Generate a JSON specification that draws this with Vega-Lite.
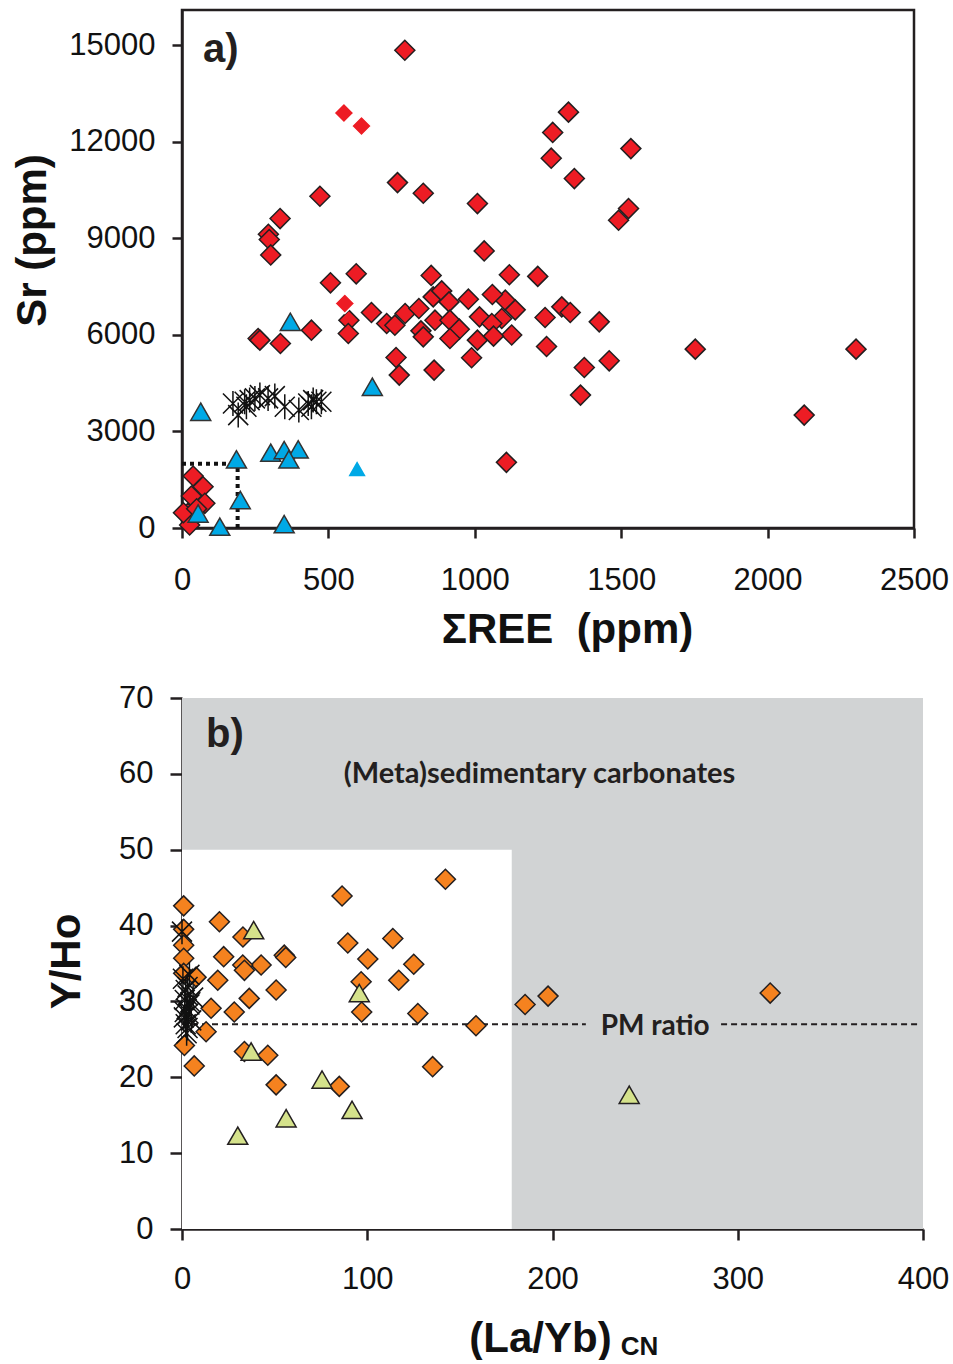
{
  "$schema": "https://vega.github.io/schema/vega-lite/v6.json",
  "padding": {"left": 9, "top": 8, "right": 5, "bottom": 0},
  "spacing": 30,
  "resolve": {"scale": {"shape": "independent", "fill": "independent", "stroke": "independent"}},
  "config": {
    "font": "Liberation Sans",
    "view": {"stroke": "#231f20", "strokeWidth": 2.5},
    "axis": {"grid": false, "domainColor": "#231f20", "domainWidth": 2.5, "tickColor": "#231f20", "tickWidth": 2.5, "tickSize": 10,
      "labelFont": "Liberation Sans", "labelFontSize": 31, "labelColor": "#111111", "format": "d",
      "titleFont": "Liberation Sans", "titleFontSize": 42, "titleFontWeight": "bold", "titleColor": "#111111",
      "labelFlush": false, "labelOverlap": false, "zindex": 1}
  },
  "vconcat": [
    {
      "width": 732, "height": 518,
      "encoding": {
        "x": {"field": "x", "type": "quantitative", "scale": {"domain": [0, 2500], "nice": false, "zero": false},
          "axis": {"values": [0, 500, 1000, 1500, 2000, 2500], "format": "d", "title": "ΣREE\u00a0 (ppm)", "labelPadding": 27, "titleX": 385, "titleY": 114, "titleBaseline": "alphabetic"}},
        "y": {"field": "y", "type": "quantitative", "scale": {"domain": [0, 16100], "nice": false},
          "axis": {"values": [0, 3000, 6000, 9000, 12000, 15000], "format": "d", "title": "Sr (ppm)", "labelPadding": 17, "titleX": -137, "titleY": 230, "titleBaseline": "alphabetic", "titleAngle": 270}}
      },
      "layer": [
        {"data": {"values": [{"x": 0, "y": 2000, "x2": 190, "y2": 2000}, {"x": 190, "y": 0, "x2": 190, "y2": 2000}]},
         "mark": {"type": "rule", "stroke": "#111111", "strokeWidth": 4, "strokeDash": [4, 4]},
         "encoding": {"x2": {"field": "x2"}, "y2": {"field": "y2"}}},
        {"data": {"values": [
          {"s": "red", "x": 761, "y": 14850}, {"s": "red", "x": 1320, "y": 12925}, {"s": "red", "x": 1266, "y": 12295}, {"s": "red", "x": 1261, "y": 11495},
          {"s": "red", "x": 1340, "y": 10860}, {"s": "red", "x": 1533, "y": 11792}, {"s": "red", "x": 1525, "y": 9928}, {"s": "red", "x": 1491, "y": 9565},
          {"s": "red", "x": 736, "y": 10735}, {"s": "red", "x": 824, "y": 10404}, {"s": "red", "x": 1009, "y": 10083}, {"s": "red", "x": 471, "y": 10311},
          {"s": "red", "x": 335, "y": 9617}, {"s": "red", "x": 295, "y": 9130}, {"s": "red", "x": 298, "y": 8965}, {"s": "red", "x": 303, "y": 8488},
          {"s": "red", "x": 1032, "y": 8612}, {"s": "red", "x": 1118, "y": 7870}, {"s": "red", "x": 1215, "y": 7820}, {"s": "red", "x": 851, "y": 7850},
          {"s": "red", "x": 595, "y": 7900}, {"s": "red", "x": 507, "y": 7620}, {"s": "red", "x": 1104, "y": 7081}, {"s": "red", "x": 1138, "y": 6780},
          {"s": "red", "x": 1092, "y": 6513}, {"s": "red", "x": 1297, "y": 6873}, {"s": "red", "x": 1326, "y": 6698}, {"s": "red", "x": 1240, "y": 6543},
          {"s": "red", "x": 1425, "y": 6407}, {"s": "red", "x": 1126, "y": 6000}, {"s": "red", "x": 1245, "y": 5640}, {"s": "red", "x": 1753, "y": 5559},
          {"s": "red", "x": 2302, "y": 5559}, {"s": "red", "x": 1374, "y": 4990}, {"s": "red", "x": 1459, "y": 5196}, {"s": "red", "x": 1361, "y": 4130},
          {"s": "red", "x": 2125, "y": 3509}, {"s": "red", "x": 1108, "y": 2040}, {"s": "red", "x": 647, "y": 6699}, {"s": "red", "x": 699, "y": 6357},
          {"s": "red", "x": 727, "y": 6304}, {"s": "red", "x": 762, "y": 6667}, {"s": "red", "x": 809, "y": 6823}, {"s": "red", "x": 858, "y": 7183},
          {"s": "red", "x": 887, "y": 7370}, {"s": "red", "x": 912, "y": 7028}, {"s": "red", "x": 978, "y": 7112}, {"s": "red", "x": 1060, "y": 7258},
          {"s": "red", "x": 864, "y": 6460}, {"s": "red", "x": 816, "y": 6127}, {"s": "red", "x": 824, "y": 5941}, {"s": "red", "x": 915, "y": 6460},
          {"s": "red", "x": 947, "y": 6180}, {"s": "red", "x": 915, "y": 5891}, {"s": "red", "x": 1016, "y": 6562}, {"s": "red", "x": 1058, "y": 6357},
          {"s": "red", "x": 1009, "y": 5839}, {"s": "red", "x": 1064, "y": 5963}, {"s": "red", "x": 989, "y": 5290}, {"s": "red", "x": 731, "y": 5300},
          {"s": "red", "x": 742, "y": 4752}, {"s": "red", "x": 861, "y": 4907}, {"s": "red", "x": 260, "y": 5891}, {"s": "red", "x": 266, "y": 5839},
          {"s": "red", "x": 336, "y": 5735}, {"s": "red", "x": 442, "y": 6149}, {"s": "red", "x": 570, "y": 6460}, {"s": "red", "x": 568, "y": 6046},
          {"s": "red", "x": 38, "y": 1615}, {"s": "red", "x": 72, "y": 1284}, {"s": "red", "x": 32, "y": 994}, {"s": "red", "x": 78, "y": 767},
          {"s": "red", "x": 20, "y": 456}, {"s": "red", "x": 26, "y": 93}, {"s": "red", "x": 5, "y": 475}, {"s": "red", "x": 50, "y": 600},
          {"s": "redopen", "x": 553, "y": 12898}, {"s": "redopen", "x": 613, "y": 12494}, {"s": "redopen", "x": 556, "y": 6978},
          {"s": "star", "x": 174, "y": 3872}, {"s": "star", "x": 192, "y": 3509}, {"s": "star", "x": 214, "y": 3924}, {"s": "star", "x": 231, "y": 3975},
          {"s": "star", "x": 249, "y": 4028}, {"s": "star", "x": 266, "y": 4130}, {"s": "star", "x": 294, "y": 4028}, {"s": "star", "x": 317, "y": 4099},
          {"s": "star", "x": 351, "y": 3767}, {"s": "star", "x": 399, "y": 3665}, {"s": "star", "x": 431, "y": 3872}, {"s": "star", "x": 448, "y": 3975},
          {"s": "star", "x": 459, "y": 3924}, {"s": "star", "x": 476, "y": 3924}, {"s": "star", "x": 442, "y": 3767}, {"s": "star", "x": 220, "y": 3767},
          {"s": "blue", "x": 370, "y": 6408}, {"s": "blue", "x": 64, "y": 3613}, {"s": "blue", "x": 650, "y": 4390}, {"s": "blue", "x": 303, "y": 2340},
          {"s": "blue", "x": 349, "y": 2422}, {"s": "blue", "x": 397, "y": 2443}, {"s": "blue", "x": 365, "y": 2134}, {"s": "blue", "x": 186, "y": 2134},
          {"s": "blue", "x": 199, "y": 870}, {"s": "blue", "x": 55, "y": 450}, {"s": "blue", "x": 129, "y": 40}, {"s": "blue", "x": 349, "y": 120},
          {"s": "blueopen", "x": 598, "y": 1854}
        ]},
         "mark": {"type": "point", "filled": true, "size": 400, "strokeWidth": 1.5, "opacity": 1},
         "encoding": {
           "shape": {"field": "s", "type": "nominal", "legend": null, "scale": {"domain": ["red", "redopen", "star", "blue", "blueopen"], "range": ["diamond", "diamond", "M-1,-1L1,1M-1,1L1,-1M0,-1.25L0,1.25", "triangle-up", "triangle-up"]}},
           "fill": {"field": "s", "type": "nominal", "legend": null, "scale": {"domain": ["red", "redopen", "star", "blue", "blueopen"], "range": ["#ed1c24", "#ed1c24", "transparent", "#00a9e6", "#00a9e6"]}},
           "stroke": {"field": "s", "type": "nominal", "legend": null, "scale": {"domain": ["red", "redopen", "star", "blue", "blueopen"], "range": ["#231f20", "#ffffff", "#111111", "#333333", "#ffffff"]}}
         }},
        {"data": {"values": [{"x": 72, "y": 14472, "t": "a)"}]},
         "mark": {"type": "text", "font": "Liberation Sans", "fontSize": 40, "fontWeight": "bold", "align": "left", "baseline": "alphabetic", "color": "#231f20"},
         "encoding": {"text": {"field": "t"}}}
      ]
    },
    {
      "width": 741, "height": 531,
      "view": {"stroke": null},
      "encoding": {
        "x": {"field": "x", "type": "quantitative", "scale": {"domain": [0, 400], "nice": false, "zero": false},
          "axis": {"values": [0, 100, 200, 300, 400], "format": "d", "title": "(La/Yb)", "labelPadding": 24, "tickSize": 11, "titleX": 358, "titleY": 122, "titleBaseline": "alphabetic"}},
        "y": {"field": "y", "type": "quantitative", "scale": {"domain": [0, 70], "nice": false},
          "axis": {"values": [0, 10, 20, 30, 40, 50, 60, 70], "format": "d", "title": "Y/Ho", "labelPadding": 17, "tickSize": 12, "titleX": -103, "titleY": 263, "titleBaseline": "alphabetic", "titleAngle": 270}}
      },
      "layer": [
        {"data": {"values": [{"x": 0, "x2": 400, "y": 0, "y2": 70}]},
         "mark": {"type": "rect", "fill": "#d1d3d4"},
         "encoding": {"x2": {"field": "x2"}, "y2": {"field": "y2"}}},
        {"data": {"values": [{"x": 0, "x2": 178, "y": 0, "y2": 50}]},
         "mark": {"type": "rect", "fill": "#ffffff"},
         "encoding": {"x2": {"field": "x2"}, "y2": {"field": "y2"}}},
        {"data": {"values": [{"x": 0, "x2": 218, "y": 27, "y2": 27}, {"x": 291, "x2": 397, "y": 27, "y2": 27}]},
         "mark": {"type": "rule", "stroke": "#231f20", "strokeWidth": 2, "strokeDash": [6, 4]},
         "encoding": {"x2": {"field": "x2"}, "y2": {"field": "y2"}}},
        {"data": {"values": [
          {"s": "orange", "x": 142.2, "y": 46.1}, {"s": "orange", "x": 86.4, "y": 43.9}, {"s": "orange", "x": 0.9, "y": 42.6}, {"s": "orange", "x": 20.2, "y": 40.5},
          {"s": "orange", "x": 32.9, "y": 38.5}, {"s": "orange", "x": 0.9, "y": 39.5}, {"s": "orange", "x": 89.5, "y": 37.7}, {"s": "orange", "x": 113.8, "y": 38.3},
          {"s": "orange", "x": 0.9, "y": 37.4}, {"s": "orange", "x": 22.5, "y": 35.9}, {"s": "orange", "x": 55.2, "y": 36.1}, {"s": "orange", "x": 56.0, "y": 35.8},
          {"s": "orange", "x": 42.7, "y": 34.8}, {"s": "orange", "x": 100.3, "y": 35.6}, {"s": "orange", "x": 125.1, "y": 34.9}, {"s": "orange", "x": 0.9, "y": 35.7},
          {"s": "orange", "x": 32.8, "y": 34.8}, {"s": "orange", "x": 33.7, "y": 34.1}, {"s": "orange", "x": 0.9, "y": 33.7}, {"s": "orange", "x": 7.6, "y": 33.2},
          {"s": "orange", "x": 19.3, "y": 32.8}, {"s": "orange", "x": 50.8, "y": 31.5}, {"s": "orange", "x": 96.7, "y": 32.6}, {"s": "orange", "x": 117.0, "y": 32.8},
          {"s": "orange", "x": 36.3, "y": 30.4}, {"s": "orange", "x": 15.7, "y": 29.1}, {"s": "orange", "x": 28.2, "y": 28.6}, {"s": "orange", "x": 97.0, "y": 28.6},
          {"s": "orange", "x": 127.3, "y": 28.4}, {"s": "orange", "x": 158.7, "y": 26.8}, {"s": "orange", "x": 13.0, "y": 26.0}, {"s": "orange", "x": 1.3, "y": 24.2},
          {"s": "orange", "x": 6.6, "y": 21.5}, {"s": "orange", "x": 33.7, "y": 23.4}, {"s": "orange", "x": 46.3, "y": 22.9}, {"s": "orange", "x": 135.3, "y": 21.4},
          {"s": "orange", "x": 50.8, "y": 19.0}, {"s": "orange", "x": 84.9, "y": 18.8}, {"s": "orange", "x": 185.2, "y": 29.6}, {"s": "orange", "x": 197.6, "y": 30.7},
          {"s": "orange", "x": 317.5, "y": 31.1},
          {"s": "star", "x": 2, "y": 31.5}, {"s": "star", "x": 3, "y": 30.8}, {"s": "star", "x": 1.5, "y": 30.2}, {"s": "star", "x": 4, "y": 29.6},
          {"s": "star", "x": 2.5, "y": 29.0}, {"s": "star", "x": 3.5, "y": 28.4}, {"s": "star", "x": 1, "y": 27.9}, {"s": "star", "x": 5, "y": 27.5},
          {"s": "star", "x": 2, "y": 27.0}, {"s": "star", "x": 3, "y": 26.5}, {"s": "star", "x": 4.5, "y": 29.9}, {"s": "star", "x": 1.5, "y": 28.6},
          {"s": "star", "x": 3, "y": 31.9}, {"s": "star", "x": 2.5, "y": 25.8}, {"s": "star", "x": 0.5, "y": 33.0}, {"s": "star", "x": 4, "y": 33.5},
          {"s": "star", "x": 6, "y": 30.5}, {"s": "star", "x": 0, "y": 39.2},
          {"s": "green", "x": 38.7, "y": 39.4}, {"s": "green", "x": 95.7, "y": 31.1}, {"s": "green", "x": 37.3, "y": 23.4}, {"s": "green", "x": 75.6, "y": 19.7},
          {"s": "green", "x": 56.2, "y": 14.6}, {"s": "green", "x": 30.1, "y": 12.3}, {"s": "green", "x": 91.8, "y": 15.7}, {"s": "green", "x": 241.4, "y": 17.7}
        ]},
         "mark": {"type": "point", "filled": true, "size": 400, "strokeWidth": 1.5, "opacity": 1},
         "encoding": {
           "shape": {"field": "s", "type": "nominal", "legend": null, "scale": {"domain": ["orange", "star", "green"], "range": ["diamond", "M-1,-1L1,1M-1,1L1,-1M0,-1.25L0,1.25", "triangle-up"]}},
           "fill": {"field": "s", "type": "nominal", "legend": null, "scale": {"domain": ["orange", "star", "green"], "range": ["#f5821f", "transparent", "#d5e28b"]}},
           "stroke": {"field": "s", "type": "nominal", "legend": null, "scale": {"domain": ["orange", "star", "green"], "range": ["#231f20", "#111111", "#231f20"]}}
         }},
        {"data": {"values": [{"x": 193, "y": 58.8, "t": "(Meta)sedimentary carbonates"}]},
         "mark": {"type": "text", "font": "Lato", "fontSize": 29, "fontWeight": "bold", "align": "center", "baseline": "alphabetic", "color": "#231f20"},
         "encoding": {"text": {"field": "t"}}},
        {"data": {"values": [{"x": 255.4, "y": 25.6, "t": "PM ratio"}]},
         "mark": {"type": "text", "font": "Lato", "fontSize": 28, "fontWeight": "bold", "align": "center", "baseline": "alphabetic", "color": "#231f20"},
         "encoding": {"text": {"field": "t"}}},
        {"data": {"values": [{"x": 13, "y": 63.5, "t": "b)"}]},
         "mark": {"type": "text", "font": "Liberation Sans", "fontSize": 40, "fontWeight": "bold", "align": "left", "baseline": "alphabetic", "color": "#231f20"},
         "encoding": {"text": {"field": "t"}}},
        {"data": {"values": [{"x": 247, "y": -16.6, "t": "CN"}]},
         "mark": {"type": "text", "font": "Liberation Sans", "fontSize": 26, "fontWeight": "bold", "align": "center", "baseline": "alphabetic", "color": "#111111"},
         "encoding": {"text": {"field": "t"}}}
      ]
    }
  ]
}
